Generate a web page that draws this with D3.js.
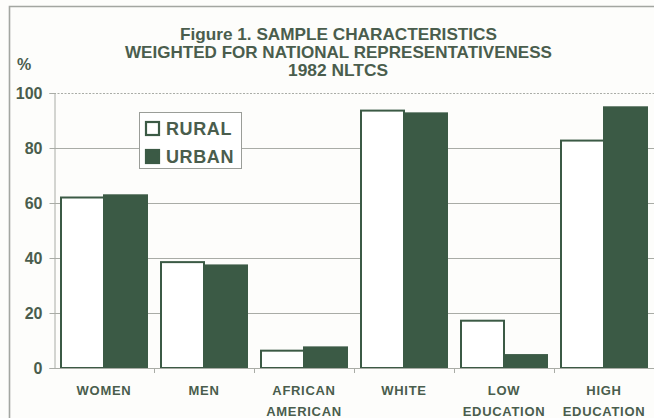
<!DOCTYPE html>
<html>
<head>
<meta charset="utf-8">
<script src="https://cdn.jsdelivr.net/npm/d3@7/dist/d3.min.js"></script>
<style>
  html, body { margin: 0; padding: 0; background: #fdfdfb; }
  svg { display: block; }
  text { font-family: "Liberation Sans", Arial, Helvetica, sans-serif; }
</style>
</head>
<body>
<svg id="chart" width="654" height="418"></svg>
<script>
// Sample characteristics, 1982 NLTCS (percent)
const categories = ["WOMEN", "MEN", "AFRICAN AMERICAN", "WHITE", "LOW EDUCATION", "HIGH EDUCATION"];
const categoryLines = [["WOMEN"], ["MEN"], ["AFRICAN", "AMERICAN"], ["WHITE"], ["LOW", "EDUCATION"], ["HIGH", "EDUCATION"]];
const series = ["RURAL", "URBAN"];
const rural = [62, 38.5, 6.3, 93.6, 17.2, 82.7];
const urban = [62.8, 37.3, 7.5, 92.6, 4.7, 94.8];
const yTicks = [0, 20, 40, 60, 80, 100];
const titleLines = ["Figure 1. SAMPLE CHARACTERISTICS", "WEIGHTED FOR NATIONAL REPRESENTATIVENESS", "1982 NLTCS"];

const ink = "#4a5d4d";
const barGreen = "#3b5a45";
const gridGray = "#a9aca6";

const svg = d3.select("#chart");

// outer frame
svg.append("path")
  .attr("d", "M9.5,420 V6.5 H660")
  .attr("fill", "none").attr("stroke", "#a3a6a1").attr("stroke-width", 1.6);

// title
const titleGeom = [{x: 180, w: 317, y: 40}, {x: 125, w: 427, y: 58}, {x: 288, w: 100, y: 76}];
svg.append("g").selectAll("text").data(titleLines).join("text")
  .attr("x", (d, i) => titleGeom[i].x)
  .attr("y", (d, i) => titleGeom[i].y)
  .attr("textLength", (d, i) => titleGeom[i].w)
  .attr("lengthAdjust", "spacingAndGlyphs")
  .attr("font-size", 16.5).attr("font-weight", "bold").attr("fill", ink)
  .text(d => d);

svg.append("text").attr("x", 17).attr("y", 70)
  .attr("font-size", 16).attr("font-weight", "bold").attr("fill", ink).text("%");

// scales
const x = d3.scaleBand().domain(categories).range([54, 654]).paddingInner(0.12).paddingOuter(0.06);
const xCell = d3.scaleBand().domain(categories).range([54, 654]).padding(0);
const xs = d3.scaleBand().domain(series).range([0, x.bandwidth()]);
const y = d3.scaleLinear().domain([0, 100]).range([368, 93]);

// gridlines
svg.append("g").selectAll("line").data(yTicks.filter(t => t > 0)).join("line")
  .attr("x1", 54).attr("x2", 654)
  .attr("y1", d => y(d) + 0.5).attr("y2", d => y(d) + 0.5)
  .attr("stroke", gridGray).attr("stroke-width", 1)
  .attr("stroke-dasharray", d => d === 100 ? "2,1.5" : null);

// y axis
const yAxis = svg.append("g").attr("transform", "translate(54.5,0)")
  .call(d3.axisLeft(y).tickValues(yTicks).tickSize(5).tickPadding(7).tickFormat(d3.format("d")));
yAxis.select(".domain").attr("stroke", gridGray);
yAxis.selectAll(".tick line").attr("stroke", gridGray);
yAxis.selectAll(".tick text")
  .attr("font-family", "Liberation Sans, Arial, sans-serif")
  .attr("font-size", 16).attr("font-weight", "bold").attr("fill", ink)
  .attr("dy", "0.36em");

// bars
const groups = svg.append("g").selectAll("g").data(categories).join("g")
  .attr("transform", d => `translate(${x(d)},0)`);
groups.append("rect")
  .attr("x", xs("RURAL") + 1).attr("width", xs.bandwidth() - 1)
  .attr("y", (d, i) => y(rural[i]))
  .attr("height", (d, i) => y(0) - y(rural[i]))
  .attr("fill", "#ffffff").attr("stroke", barGreen).attr("stroke-width", 2);
groups.append("rect")
  .attr("x", xs("URBAN")).attr("width", xs.bandwidth() - 1)
  .attr("y", (d, i) => y(urban[i]))
  .attr("height", (d, i) => y(0) - y(urban[i]))
  .attr("fill", barGreen).attr("stroke", barGreen).attr("stroke-width", 2);

// x axis line with category dividers
const xAxis = svg.append("g");
xAxis.append("line").attr("x1", 54).attr("x2", 654).attr("y1", 368.5).attr("y2", 368.5)
  .attr("stroke", gridGray).attr("stroke-width", 1.2);
xAxis.selectAll("line.div").data(categories.slice(1).concat(["end"])).join("line").attr("class", "div")
  .attr("x1", (d, i) => xCell(categories[i]) + xCell.bandwidth() + 0.5)
  .attr("x2", (d, i) => xCell(categories[i]) + xCell.bandwidth() + 0.5)
  .attr("y1", 368).attr("y2", 373)
  .attr("stroke", gridGray);

// category labels
const labels = svg.append("g").selectAll("text").data(categories).join("text")
  .attr("text-anchor", "middle")
  .attr("font-size", 13).attr("font-weight", "bold").attr("fill", ink)
  .attr("letter-spacing", 0.7);
labels.selectAll("tspan").data((d, i) => categoryLines[i].map(t => ({t, c: d}))).join("tspan")
  .attr("x", d => xCell(d.c) + xCell.bandwidth() / 2)
  .attr("y", (d, j) => 395 + j * 21)
  .text(d => d.t);

// legend
const legend = svg.append("g");
legend.append("rect").attr("x", 139.5).attr("y", 112.5).attr("width", 102).attr("height", 56)
  .attr("fill", "#ffffff").attr("stroke", "#9a9d98").attr("stroke-width", 1);
const legendRows = legend.selectAll("g").data(series).join("g")
  .attr("transform", (d, i) => `translate(0,${i * 28})`);
legendRows.append("rect")
  .attr("x", 146).attr("y", 122).attr("width", 13).attr("height", 13)
  .attr("fill", (d, i) => i === 0 ? "#ffffff" : barGreen)
  .attr("stroke", barGreen).attr("stroke-width", 2.2);
legendRows.append("text")
  .attr("x", 166).attr("y", 135)
  .attr("font-size", 18).attr("font-weight", "bold").attr("fill", ink)
  .attr("letter-spacing", 0.6)
  .text(d => d);
</script>
</body>
</html>
